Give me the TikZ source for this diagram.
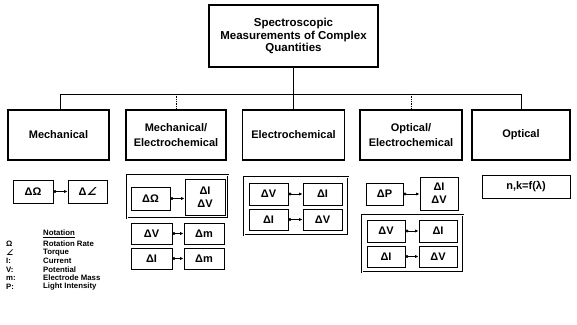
\documentclass[tikz,border=0pt]{standalone}
\usepackage{fontspec}
\setmainfont{Liberation Sans}
\newfontfamily\symfont{DejaVu Sans}[FakeSlant=0.25]
\usetikzlibrary{arrows.meta}
\newcommand{\torq}{{\symfont\bfseries ∠}}
\begin{document}
\begin{tikzpicture}[x=1pt,y=-1pt,
  mainbox/.style={draw, line width=1.1pt, inner sep=0pt, align=center,
    font=\fontsize{11}{15.5}\selectfont\bfseries},
  topbox/.style={mainbox, font=\fontsize{11.5}{12.5}\selectfont\bfseries},
  sbox/.style={draw, line width=0.9pt, inner sep=0pt, align=center,
    font=\fontsize{11}{13}\selectfont\bfseries},
  gbox/.style={draw, line width=0.55pt, double, double distance=0.8pt, inner sep=0pt},
  bus/.style={line width=1pt},
  drop/.style={line width=0.6pt},
  dotdrop/.style={line width=0.7pt, densely dotted},
  conn/.style={{Circle[length=3pt]}-{Latex[length=3.4pt,width=3.2pt]}, line width=0.7pt},
  notetxt/.style={anchor=west, inner sep=0pt, font=\fontsize{7.8}{9}\selectfont\bfseries},
]
\useasboundingbox (0,0) rectangle (577,324);

% top
\node[topbox, minimum width=169pt, minimum height=62pt] (top) at (293.5,36)
  {Spectroscopic\\Measurements of Complex\\Quantities};

% categories
\node[mainbox, minimum width=101pt, minimum height=50pt] (mech) at (58.5,135) {Mechanical};
\node[mainbox, minimum width=100pt, minimum height=50pt] (mechel) at (176,135) {Mechanical/\\Electrochemical};
\node[mainbox, minimum width=102pt, minimum height=50pt] (electro) at (293.5,135) {Electrochemical};
\node[mainbox, minimum width=102pt, minimum height=50pt] (optel) at (411,135) {Optical/\\Electrochemical};
\node[mainbox, minimum width=98pt, minimum height=50pt] (optical) at (521,135) {Optical};

% tree connectors
\coordinate (busL) at (60,94);
\coordinate (busR) at (521,94);
\draw[bus] (busL) -- (busR);
\draw[drop] (top.south) -- (electro.north);
\draw[drop] (busL) -- (busL |- mech.north);
\draw[dotdrop] (mechel.north |- busL) -- (mechel.north);
\draw[dotdrop] (optel.north |- busL) -- (optel.north);
\draw[drop] (busR) -- (optical.north);

% Mechanical
\node[sbox, minimum width=40pt, minimum height=23pt] (m1) at (33,191.5) {ΔΩ};
\node[sbox, minimum width=39pt, minimum height=23pt] (m2) at (87.5,191.5) {Δ\torq};
\draw[conn] (m1.east) -- (m2.west);

% Mechanical / Electrochemical
\node[gbox, minimum width=101pt, minimum height=43pt] (me0) at (177.5,196.5) {};
\node[sbox, minimum width=39pt, minimum height=23pt] (me1) at (150.5,198.5) {ΔΩ};
\node[sbox, minimum width=40pt, minimum height=36pt] (me2) at (205,197) {ΔI\\ΔV};
\draw[conn] (me1.east) -- (me1.east -| me2.west);
\node[sbox, minimum width=41pt, minimum height=21pt] (me3) at (151.5,233.5) {ΔV};
\node[sbox, minimum width=40pt, minimum height=21pt] (me4) at (204,233.5) {Δm};
\draw[conn] (me3.east) -- (me4.west);
\node[sbox, minimum width=41pt, minimum height=21pt] (me5) at (151.5,258.5) {ΔI};
\node[sbox, minimum width=40pt, minimum height=21pt] (me6) at (204,258.5) {Δm};
\draw[conn] (me5.east) -- (me6.west);

% Electrochemical
\node[gbox, minimum width=104pt, minimum height=58pt] (ec0) at (296,206) {};
\node[sbox, minimum width=39pt, minimum height=22pt] (ec1) at (268.5,194) {ΔV};
\node[sbox, minimum width=39pt, minimum height=22pt] (ec2) at (322.5,194) {ΔI};
\draw[conn] (ec1.east) -- (ec2.west);
\node[sbox, minimum width=39pt, minimum height=21pt] (ec3) at (268.5,219.5) {ΔI};
\node[sbox, minimum width=39pt, minimum height=21pt] (ec4) at (322.5,219.5) {ΔV};
\draw[conn] (ec3.east) -- (ec4.west);

% Optical / Electrochemical
\node[sbox, minimum width=37pt, minimum height=22pt] (oe1) at (384.5,194) {ΔP};
\node[sbox, minimum width=38pt, minimum height=33pt] (oe2) at (439,193.5) {ΔI\\ΔV};
\draw[conn] (oe1.east) -- (oe1.east -| oe2.west);
\node[gbox, minimum width=101pt, minimum height=57pt] (oe0) at (412.5,243.5) {};
\node[sbox, minimum width=38pt, minimum height=22pt] (oe3) at (386,231) {ΔV};
\node[sbox, minimum width=38pt, minimum height=22pt] (oe4) at (438,231) {ΔI};
\draw[conn] (oe3.east) -- (oe4.west);
\node[sbox, minimum width=38pt, minimum height=21pt] (oe5) at (386,256.5) {ΔI};
\node[sbox, minimum width=38pt, minimum height=21pt] (oe6) at (438,256.5) {ΔV};
\draw[conn] (oe5.east) -- (oe6.west);

% Optical
\node[sbox, minimum width=88pt, minimum height=23pt] (op1) at (526,186.5) {n,k=f(λ)};

% Notation
\node[notetxt] (nt) at (43,234) {\underline{Notation}};
\node[notetxt] (s1) at (6,244) {Ω};
\node[notetxt] (t1) at (43,244) {Rotation Rate};
\node[notetxt] (s2) at (6,252.5) {\torq};
\node[notetxt] (t2) at (43,252.5) {Torque};
\node[notetxt] (s3) at (6,261) {I:};
\node[notetxt] (t3) at (43,261) {Current};
\node[notetxt] (s4) at (6,269.5) {V:};
\node[notetxt] (t4) at (43,269.5) {Potential};
\node[notetxt] (s5) at (6,278) {m:};
\node[notetxt] (t5) at (43,278) {Electrode Mass};
\node[notetxt] (s6) at (6,286.5) {P:};
\node[notetxt] (t6) at (43,286.5) {Light Intensity};
\end{tikzpicture}
\end{document}
